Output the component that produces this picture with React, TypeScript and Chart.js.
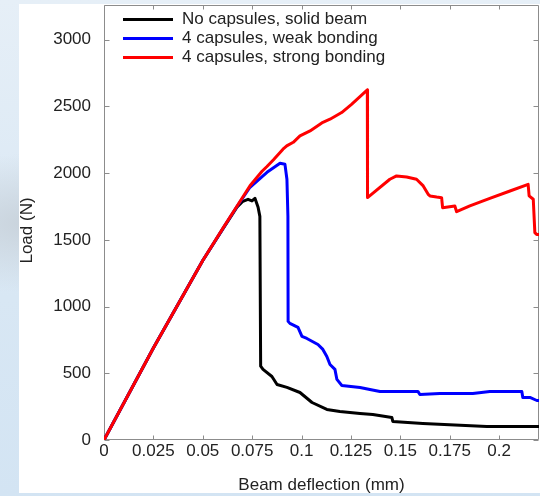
import React, { useEffect, useRef } from "react";
import { Chart, registerables } from "chart.js";

Chart.register(...registerables);

// ---------- data ----------
const seriesLabels = [
  "No capsules, solid beam",
  "4 capsules, weak bonding",
  "4 capsules, strong bonding",
];
const seriesColors = ["#000000", "#0000ff", "#ff0000"];

const blackX = [0, 0.025, 0.05, 0.06, 0.0673, 0.0703, 0.0729, 0.0749, 0.0764, 0.078, 0.0789, 0.0793, 0.0805, 0.085, 0.0876, 0.0926, 0.0992, 0.1053, 0.1128, 0.1194, 0.1296, 0.1361, 0.1457, 0.1462, 0.1614, 0.1938, 0.2205];
const blackY = [0, 690, 1345, 1578, 1744, 1789, 1804, 1792, 1811, 1744, 1676, 553, 529, 476, 416, 394, 356, 281, 229, 214, 199, 191, 169, 139, 124, 101, 101];

const blueX = [0, 0.025, 0.05, 0.06, 0.0673, 0.0739, 0.0825, 0.0891, 0.0916, 0.0926, 0.0931, 0.0932, 0.0941, 0.0982, 0.1002, 0.1027, 0.1083, 0.1108, 0.1128, 0.1144, 0.1169, 0.1179, 0.1204, 0.1296, 0.1346, 0.1397, 0.1589, 0.1599, 0.17, 0.1867, 0.1953, 0.2115, 0.212, 0.2156, 0.2191, 0.2205];
const blueY = [0, 690, 1345, 1580, 1750, 1894, 2006, 2074, 2066, 1954, 1676, 889, 874, 844, 776, 761, 716, 679, 626, 566, 529, 454, 409, 394, 379, 364, 364, 341, 349, 349, 364, 364, 319, 319, 296, 296];

const redX = [0, 0.025, 0.05, 0.06, 0.0673, 0.0739, 0.08, 0.0825, 0.0858, 0.0906, 0.0925, 0.0958, 0.0992, 0.1043, 0.1108, 0.1144, 0.1203, 0.1253, 0.1333, 0.1334, 0.1447, 0.1481, 0.1532, 0.1582, 0.1616, 0.1641, 0.165, 0.1684, 0.1709, 0.1714, 0.1776, 0.1785, 0.1852, 0.1953, 0.2055, 0.2147, 0.2152, 0.2173, 0.2181, 0.219, 0.2205];
const redY = [0, 690, 1345, 1582, 1752, 1905, 2014, 2050, 2100, 2179, 2204, 2231, 2279, 2316, 2381, 2404, 2454, 2516, 2624, 1817, 1954, 1979, 1971, 1954, 1904, 1841, 1829, 1821, 1816, 1741, 1754, 1711, 1754, 1811, 1866, 1916, 1829, 1804, 1554, 1541, 1541];

const xTickValues = [0, 0.025, 0.05, 0.075, 0.1, 0.125, 0.15, 0.175, 0.2];
const xTickLabels = ["0", "0.025", "0.05", "0.075", "0.1", "0.125", "0.15", "0.175", "0.2"];
const yTickValues = [0, 500, 1000, 1500, 2000, 2500, 3000];
const yTickLabels = ["0", "500", "1000", "1500", "2000", "2500", "3000"];

const xTitle = "Beam deflection (mm)";
const yTitle = "Load (N)";

const FONT = "'Liberation Sans', Arial, Helvetica, sans-serif";
const TEXT = "#222222";
const AXIS = "#8c8c8c";

const toPoints = (xs: number[], ys: number[]) => xs.map((x, i) => ({ x, y: ys[i] }));

const framePlugin = {
  id: "frameTicks",
  beforeDatasetsDraw(chart: any) {
    const { ctx, chartArea: a, scales } = chart;
    ctx.save();
    ctx.strokeStyle = AXIS;
    ctx.lineWidth = 1;
    const l = Math.round(a.left) + 0.5;
    const r = Math.round(a.right) - 0.5;
    const t = Math.round(a.top) + 0.5;
    const b = Math.round(a.bottom) - 0.5;
    ctx.beginPath();
    ctx.rect(l, t, r - l, b - t);
    for (const v of xTickValues) {
      const px = Math.round(scales.x.getPixelForValue(v)) + 0.5;
      ctx.moveTo(px, b);
      ctx.lineTo(px, b - 4);
      ctx.moveTo(px, t);
      ctx.lineTo(px, t + 4);
    }
    for (const v of yTickValues) {
      const py = Math.round(scales.y.getPixelForValue(v)) + 0.5;
      ctx.moveTo(l, py);
      ctx.lineTo(l + 5, py);
      ctx.moveTo(r, py);
      ctx.lineTo(r - 5, py);
    }
    ctx.stroke();
    ctx.restore();
  },
  afterDraw(chart: any) {
    const { ctx, chartArea: a } = chart;
    ctx.save();
    ctx.font = `17px ${FONT}`;
    ctx.textBaseline = "middle";
    ctx.textAlign = "left";
    seriesLabels.forEach((label, i) => {
      const y = a.top + 14.5 + i * 19;
      ctx.strokeStyle = seriesColors[i];
      ctx.lineWidth = 3;
      ctx.beginPath();
      ctx.moveTo(a.left + 19, y);
      ctx.lineTo(a.left + 69, y);
      ctx.stroke();
      ctx.fillStyle = TEXT;
      ctx.fillText(label, a.left + 78, y);
    });
    // y-axis title, placed slightly below the plot centre as in the reference
    ctx.translate(27, (a.top + a.bottom) / 2 + 8);
    ctx.rotate(-Math.PI / 2);
    ctx.textAlign = "center";
    ctx.fillText(yTitle, 0, 0);
    ctx.restore();
  },
};

export default function App() {
  const canvasRef = useRef<HTMLCanvasElement | null>(null);

  useEffect(() => {
    document.body.style.margin = "0";
    const canvas = canvasRef.current;
    if (!canvas) return;
    const datasets = [
      { label: seriesLabels[0], data: toPoints(blackX, blackY), borderColor: seriesColors[0], order: 3 },
      { label: seriesLabels[1], data: toPoints(blueX, blueY), borderColor: seriesColors[1], order: 2 },
      { label: seriesLabels[2], data: toPoints(redX, redY), borderColor: seriesColors[2], order: 1 },
    ].map((d) => ({
      ...d,
      borderWidth: 3,
      pointRadius: 0,
      tension: 0,
      fill: false,
      borderJoinStyle: "round" as const,
      borderCapStyle: "butt" as const,
    }));

    const chart = new Chart(canvas, {
      type: "line",
      data: { datasets },
      options: {
        animation: false,
        responsive: false,
        devicePixelRatio: 1,
        layout: { padding: { left: 0, top: 5, right: 1, bottom: 0 } },
        plugins: { legend: { display: false }, tooltip: { enabled: false } },
        scales: {
          x: {
            type: "linear",
            min: 0,
            max: 0.2202,
            grid: { display: false, drawTicks: false },
            border: { display: false },
            afterBuildTicks: (s: any) => {
              s.ticks = xTickValues.map((v) => ({ value: v }));
            },
            afterFit: (s: any) => {
              s.height = 56;
              s.paddingLeft = 0;
              s.paddingRight = 0;
              s.paddingTop = 0;
              s.paddingBottom = 0;
            },
            ticks: {
              autoSkip: false,
              maxRotation: 0,
              padding: 1,
              color: TEXT,
              font: { family: FONT, size: 17 },
              callback: (v: any) => {
                const i = xTickValues.findIndex((t) => Math.abs(t - v) < 1e-9);
                return i >= 0 ? xTickLabels[i] : "";
              },
            },
            title: {
              display: true,
              text: xTitle,
              color: TEXT,
              font: { family: FONT, size: 17 },
              padding: { top: 0, bottom: 0 },
            },
          },
          y: {
            type: "linear",
            min: 0,
            max: 3260,
            grid: { display: false, drawTicks: false },
            border: { display: false },
            afterBuildTicks: (s: any) => {
              s.ticks = yTickValues.map((v) => ({ value: v }));
            },
            afterFit: (s: any) => {
              s.width = 104;
              s.paddingLeft = 0;
              s.paddingRight = 0;
              s.paddingTop = 0;
              s.paddingBottom = 0;
            },
            ticks: {
              autoSkip: false,
              padding: 13,
              color: TEXT,
              font: { family: FONT, size: 17 },
              callback: (v: any) => {
                const i = yTickValues.indexOf(v);
                return i >= 0 ? yTickLabels[i] : "";
              },
            },
            title: { display: false },
          },
        },
      },
      plugins: [framePlugin],
    });
    return () => chart.destroy();
  }, []);

  return (
    <div
      style={{
        position: "fixed",
        left: 0,
        top: 0,
        width: 540,
        height: 496,
        overflow: "hidden",
        background:
          "radial-gradient(ellipse at 5% 45%, #c9d3dc 0%, rgba(201,211,220,0) 18%), linear-gradient(180deg, #e6eff7 0%, #d8e7f4 60%, #d3e4f3 100%)",
      }}
    >
      <div
        style={{
          position: "absolute",
          left: 19,
          top: 4,
          width: 521,
          height: 489,
          background: "#ffffff",
        }}
      />
      <canvas
        ref={canvasRef}
        width={540}
        height={496}
        style={{ position: "absolute", left: 0, top: 0, width: 540, height: 496 }}
      />
    </div>
  );
}
